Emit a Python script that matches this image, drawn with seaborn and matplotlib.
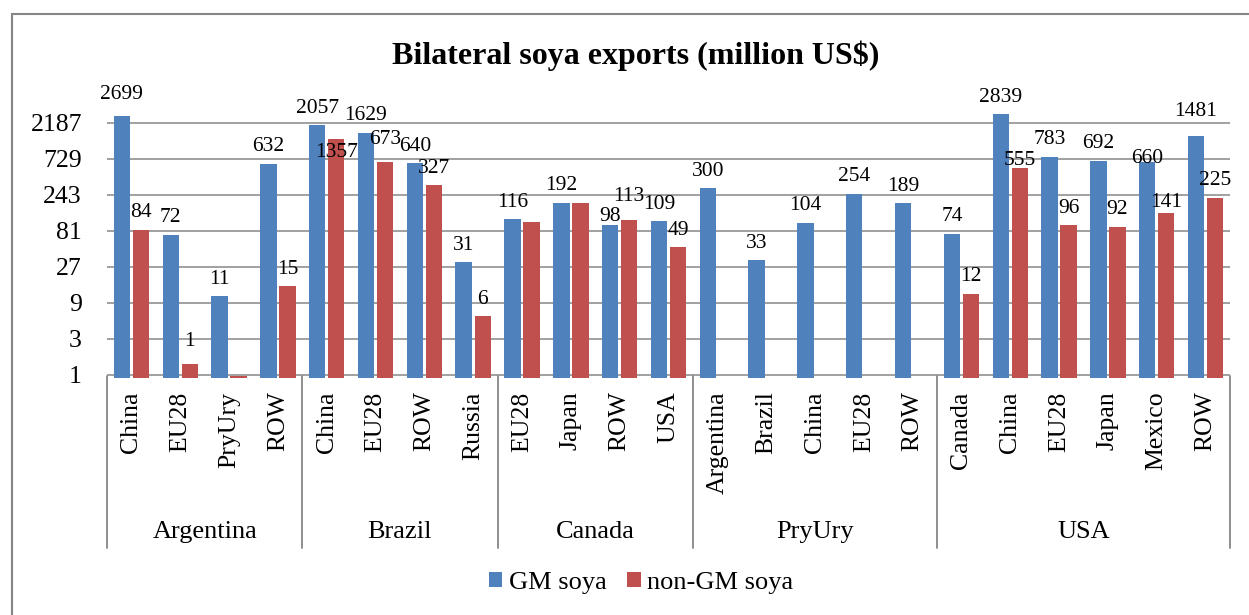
import numpy as np
import pandas as pd
import matplotlib
matplotlib.use("Agg")
import matplotlib.pyplot as plt
import matplotlib.transforms as mtransforms
from matplotlib.lines import Line2D
from matplotlib.patches import Rectangle, Patch
from matplotlib.ticker import NullLocator
import seaborn as sns

# ---- data ---------------------------------------------------------------
title = "Bilateral soya exports (million US$)"
series = ["GM soya", "non-GM soya"]
exporters = ["Argentina", "Brazil", "Canada", "PryUry", "USA"]
destinations = [
    ["China", "EU28", "PryUry", "ROW"],
    ["China", "EU28", "ROW", "Russia"],
    ["EU28", "Japan", "ROW", "USA"],
    ["Argentina", "Brazil", "China", "EU28", "ROW"],
    ["Canada", "China", "EU28", "Japan", "Mexico", "ROW"],
]
gm_values = [
    [2699, 72, 11, 632],
    [2057, 1629, 640, 31],
    [116, 192, 98, 109],
    [300, 33, 104, 254, 189],
    [74, 2839, 783, 692, 660, 1481],
]
non_gm_values = [
    [84, 1.4, 0.96, 15],
    [1357, 673, 327, 6],
    [105, 190, 113, 49],
    [None, None, None, None, None],
    [12, 555, 96, 92, 141, 225],
]
# non-GM values that carry a printed data label
non_gm_labelled = [
    [True, True, False, True],
    [True, True, True, True],
    [False, False, True, True],
    [False, False, False, False, False],
    [True, True, True, True, True, True],
]
y_ticks = [1, 3, 9, 27, 81, 243, 729, 2187]

# ---- styling -------------------------------------------------------------
colors = {"GM soya": "#4F81BD", "non-GM soya": "#C0504D"}
grey = "#868686"
W, H = 1249, 615
label_gap_default = 17  # px between bar top and label centre
label_gap = {
    ("Argentina", "China", "GM soya"): 22,
    ("Argentina", "EU28", "non-GM soya"): 22,
    ("Brazil", "China", "non-GM soya"): -14,
    ("Brazil", "EU28", "non-GM soya"): 22,
    ("Canada", "ROW", "GM soya"): 8,
    ("Canada", "ROW", "non-GM soya"): 24,
    ("USA", "China", "non-GM soya"): 7,
    ("USA", "Mexico", "GM soya"): 4,
    ("USA", "Mexico", "non-GM soya"): 10,
    ("USA", "ROW", "GM soya"): 24,
}

sns.set_style("white")
plt.rcParams["font.family"] = ["Liberation Serif", "DejaVu Serif"]
plt.rcParams["text.color"] = "black"
plt.rcParams["xtick.color"] = "black"
plt.rcParams["ytick.color"] = "black"
plt.rcParams["axes.labelcolor"] = "black"

# ---- tidy table ----------------------------------------------------------
rows = []
keys, key_info = [], []
for exp, dests, gms, ngs, lab in zip(exporters, destinations, gm_values,
                                     non_gm_values, non_gm_labelled):
    for d, g, n, l in zip(dests, gms, ngs, lab):
        key = f"{exp}|{d}"
        keys.append(key)
        key_info.append((exp, d))
        rows.append(dict(key=key, exporter=exp, dest=d, series="GM soya",
                         value=g, labelled=True))
        if n is not None:
            rows.append(dict(key=key, exporter=exp, dest=d,
                             series="non-GM soya", value=n, labelled=l))
df = pd.DataFrame(rows)
n_cat = len(keys)

# ---- figure ----------------------------------------------------------------
fig = plt.figure(figsize=(W / 100, H / 100), dpi=100)
ax_bottom_px, ax_top_px = 377.7, 88.8
ax = fig.add_axes([107 / W, 1 - ax_bottom_px / H, (1230 - 107) / W,
                   (ax_bottom_px - ax_top_px) / H])

sns.barplot(data=df, x="key", y="value", hue="series", order=keys,
            hue_order=series, palette=colors, width=0.78, gap=0.14,
            errorbar=None, saturation=1, linewidth=0, legend=False, ax=ax)

ax.set_yscale("log", base=3)
ax.set_ylim(0.92, 3 ** 7.95)
ax.set_xlim(-0.5, n_cat - 0.5)
ax.yaxis.set_minor_locator(NullLocator())
ax.set_yticks(y_ticks, labels=[str(t) for t in y_ticks])
ax.tick_params(axis="y", length=0, pad=18, labelsize=18.5)
ax.yaxis.grid(True, which="major", color=grey, linewidth=1.1)
ax.set_axisbelow(True)
for s in ax.spines.values():
    s.set_visible(False)
ax.set_xlabel("")
ax.set_ylabel("")

# destination labels (inner category level)
ax.set_xticks(range(n_cat), labels=[d for _, d in key_info])
ax.tick_params(axis="x", length=0, pad=10, labelsize=18.5, labelrotation=90)
for t in ax.get_xticklabels():
    t.set_verticalalignment("top")

# data labels above bars
lookup = {(r.key, r.series): r for r in df.itertuples()}
for cont, s in zip(ax.containers, series):
    for bar in cont:
        idx = int(round(bar.get_x() + bar.get_width() / 2))
        rec = lookup.get((keys[idx], s))
        if rec is None or not rec.labelled:
            continue
        gap_px = label_gap.get((rec.exporter, rec.dest, s), label_gap_default)
        ax.annotate(f"{rec.value:.0f}",
                    (bar.get_x() + bar.get_width() / 2, bar.get_height()),
                    xytext=(0, gap_px * 0.72), textcoords="offset points",
                    ha="center", va="center", fontsize=15.5, color="black")

# outer category level: separators and exporter names
blend = mtransforms.blended_transform_factory(ax.transData, fig.transFigure)
y_top = 1 - 376 / H
y_low = 1 - 548 / H
bounds = [-0.5]
start = 0
for exp, dests in zip(exporters, destinations):
    end = start + len(dests)
    bounds.append(end - 0.5)
    ax.text((start + end - 1) / 2, 1 - 532 / H, exp, transform=blend,
            ha="center", va="center", fontsize=19)
    start = end
for b in bounds:
    ax.add_line(Line2D([b, b], [y_top, y_low], transform=blend,
                       color=grey, linewidth=1.3, clip_on=False))

# title and legend
fig.text(636 / W, 1 - 56 / H, title, ha="center", va="center",
         fontsize=23, fontweight="bold")
handles = [Patch(facecolor=colors[s], edgecolor="none") for s in series]
fig.legend(handles, series, loc="center", bbox_to_anchor=(641 / W, 1 - 583 / H),
           ncol=2, frameon=False, fontsize=19, handlelength=0.5,
           handleheight=0.5, handletextpad=0.25, columnspacing=0.8)

# chart border
fig.add_artist(Rectangle((12 / W, -0.05), 1.2, 1 - 14 / H + 0.05,
                         transform=fig.transFigure, fill=False,
                         edgecolor=grey, linewidth=1.5))

fig.savefig("out.png", dpi=100)
